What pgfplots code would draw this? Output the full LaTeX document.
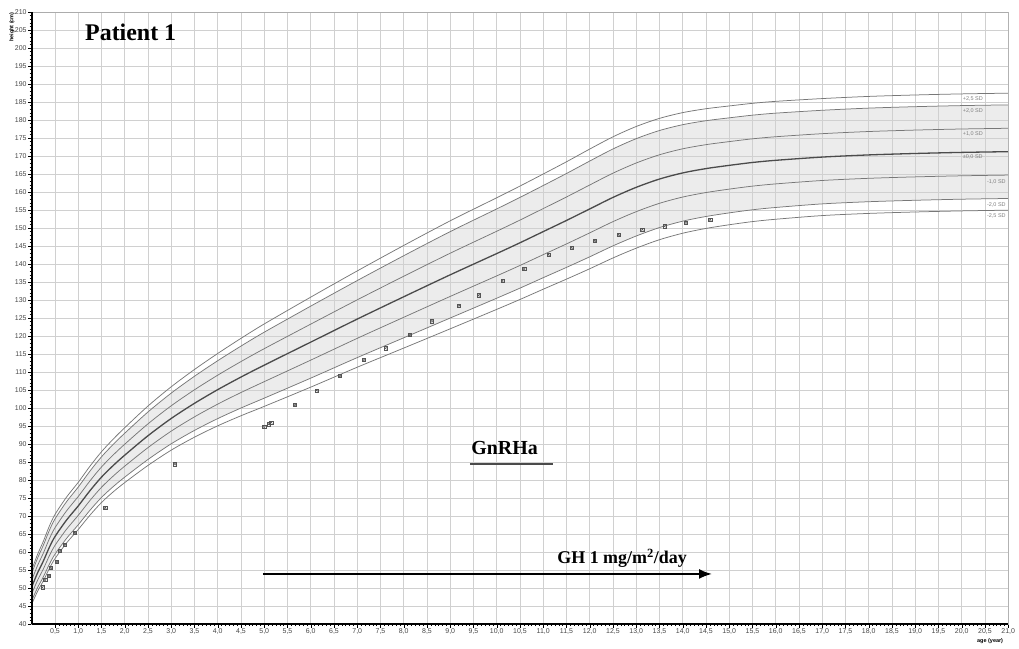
\documentclass[border=0pt]{standalone}
\usepackage{fontspec}
\setmainfont{Liberation Serif}
\newfontfamily\sansf{Liberation Sans}
\usepackage{pgfplots}
\usepackage{pgfplotstable}
\pgfplotsset{compat=1.18}
\usepgfplotslibrary{fillbetween}
\usetikzlibrary{arrows.meta}

\definecolor{gridc}{RGB}{208,208,208}
\definecolor{curvec}{RGB}{120,120,120}
\definecolor{meanc}{RGB}{75,75,75}
\definecolor{shadec}{RGB}{236,236,236}
\definecolor{ptc}{RGB}{85,85,85}
\definecolor{labc}{RGB}{70,70,70}

\pgfplotstableread{
age   p25    p20    p10    m0    n10    n20    n25
0     55.05  54.1   52.2   50.3  48.4   46.5   45.55
0.125 59.33  58.3   56.25  54.2  52.15  50.1   49.08
0.25  63.0   61.9   59.7   57.5  55.3   53.1   52.0
0.375 67.08  65.9   63.55  61.2  58.85  56.5   55.33
0.5   70.43  69.2   66.75  64.3  61.85  59.4   58.18
0.75  75.28  74.0   71.45  68.9  66.35  63.8   62.53
1.0   79.35  78.04  75.42  72.8  70.18  67.56  66.25
1.25  83.8   82.44  79.72  77.0  74.28  71.56  70.2
1.5   87.85  86.44  83.62  80.8  77.98  75.16  73.75
1.75  91.33  89.86  86.93  84.0  81.07  78.14  76.68
2.0   94.53  93.0   89.95  86.9  83.85  80.8   79.28
2.5   100.55 98.9   95.6   92.3  89.0   85.7   84.05
3.0   105.9  104.14 100.62 97.1  93.58  90.06  88.3
3.5   110.7  108.82 105.06 101.3 97.54  93.78  91.9
4.0   115.15 113.14 109.12 105.1 101.08 97.06  95.05
4.5   119.35 117.2  112.9  108.6 104.3  100.0  97.85
5.0   123.35 121.06 116.48 111.9 107.32 102.74 100.45
6.0   130.8  128.3  123.3  118.3 113.3  108.3  105.8
7.0   138.08 135.4  130.05 124.7 119.35 114.0  111.33
8.0   145.15 142.3  136.6  130.9 125.2  119.5  116.65
9.0   152.0  149.0  143.0  137.0 131.0  125.0  122.0
10.0  158.4  155.3  149.1  142.9 136.7  130.5  127.4
10.5  161.65 158.5  152.2  145.9 139.6  133.3  130.15
11.0  165.0  161.8  155.4  149.0 142.6  136.2  133.0
11.5  168.4  165.14 158.62 152.1 145.58 139.06 135.8
12.0  171.93 168.6  161.95 155.3 148.65 142.0  138.68
12.5  175.33 171.96 165.23 158.5 151.77 145.04 141.68
13.0  178.2  174.82 168.06 161.3 154.54 147.78 144.4
13.5  180.45 177.08 170.34 163.6 156.86 150.12 146.75
14.0  182.05 178.7  172.0  165.3 158.6  151.9  148.55
14.5  183.13 179.8  173.15 166.5 159.85 153.2  149.88
15.0  183.9  180.6  174.0  167.4 160.8  154.2  150.9
15.5  184.63 181.34 174.77 168.2 161.63 155.06 151.78
16.0  185.18 181.9  175.35 168.8 162.25 155.7  152.43
17.0  185.95 182.7  176.2  169.7 163.2  156.7  153.45
18.0  186.55 183.3  176.8  170.3 163.8  157.3  154.05
19.0  186.95 183.7  177.2  170.7 164.2  157.7  154.45
20.0  187.25 184.0  177.5  171.0 164.5  158.0  154.75
21.0  187.45 184.2  177.7  171.2 164.7  158.2  154.95
}\sds

\pgfplotstableread{
age   h
0.23  50.2
0.29  52.2
0.37  53.4
0.41  55.6
0.54  57.2
0.61  60.4
0.71  62.1
0.92  65.4
1.58  72.3
3.08  84.4
5.00  94.7
5.09  95.5
5.15  96.0
5.66  100.8
6.13  104.9
6.63  108.9
7.14  113.3
7.61  116.6
8.13  120.3
8.61  124.1
9.19  128.5
9.61  131.3
10.12 135.3
10.59 138.6
11.11 142.6
11.61 144.5
12.11 146.5
12.62 148.1
13.13 149.6
13.61 150.5
14.07 151.5
14.59 152.3
}\pts

\begin{document}
\begin{tikzpicture}
\begin{axis}[
  at={(0,0)}, anchor=south west,
  scale only axis, width=976.5bp, height=612bp,
  xmin=0, xmax=21, ymin=40, ymax=210,
  set layers, clip=false,
  xtick={0.5,1,...,21},
  ytick={40,45,...,210},
  minor x tick num=5, minor y tick num=4,
  grid=major,
  major grid style={gridc, line width=0.9bp},
  tick align=outside, tick pos=left,
  major tick length=3.5bp, minor tick length=2.2bp,
  every tick/.style={black, line width=0.45bp},
  axis line style={gray!65, line width=0.8bp},
  scaled ticks=false,
  xticklabel style={font=\sansf\fontsize{7}{8}\selectfont, text=labc, inner sep=1bp,
     /pgf/number format/.cd, fixed, fixed zerofill, precision=1, use comma, assume math mode=true},
  yticklabel style={font=\sansf\fontsize{7}{8}\selectfont, text=labc, inner sep=1.5bp,
     /pgf/number format/.cd, fixed, precision=0, assume math mode=true},
]
\addplot[name path=p20, draw=curvec, line width=0.75bp, smooth] table[x=age,y=p20]{\sds};
\addplot[name path=n20, draw=curvec, line width=0.75bp, smooth] table[x=age,y=n20]{\sds};
\addplot[fill=shadec, draw=none] fill between[of=p20 and n20, on layer=axis background];
\addplot[draw=curvec, line width=0.75bp, smooth] table[x=age,y=p25]{\sds};
\addplot[draw=curvec, line width=0.75bp, smooth] table[x=age,y=p10]{\sds};
\addplot[draw=curvec, line width=0.75bp, smooth] table[x=age,y=n10]{\sds};
\addplot[draw=curvec, line width=0.75bp, smooth] table[x=age,y=n25]{\sds};
\addplot[draw=meanc, line width=1.3bp, smooth] table[x=age,y=m0]{\sds};

\addplot[only marks, mark=square, mark size=1.6bp, ptc, mark options={line width=0.45bp}] table[x=age,y=h]{\pts};
\addplot[only marks, mark=x, mark size=1.6bp, ptc, mark options={line width=0.45bp}] table[x=age,y=h]{\pts};

\draw[black, line width=1.6bp] (rel axis cs:0,0) -- (rel axis cs:0,1);
\draw[black, line width=1.6bp] (rel axis cs:0,0) -- (rel axis cs:1,0);
\draw[gray!60, line width=1.3bp] (rel axis cs:1,0) -- (rel axis cs:1,1);

\begin{scope}[every node/.style={font=\sansf\fontsize{5.5}{6}\selectfont, text=gray, inner sep=0pt}]
\node[anchor=west] at (axis cs:20.02,185.75) {+2,5 SD};
\node[anchor=west] at (axis cs:20.02,182.6) {+2,0 SD};
\node[anchor=west] at (axis cs:20.02,176.1) {+1,0 SD};
\node[anchor=west] at (axis cs:20.02,169.6) {±0,0 SD};
\node[anchor=west] at (axis cs:20.54,162.9) {-1,0 SD};
\node[anchor=west] at (axis cs:20.54,156.4) {-2,0 SD};
\node[anchor=west] at (axis cs:20.54,153.4) {-2,5 SD};
\end{scope}

\node[anchor=base west, font=\bfseries\fontsize{24}{28}\selectfont, inner sep=0pt] at (axis cs:1.145,202.2) {Patient 1};
\node[anchor=base west, font=\bfseries\fontsize{20}{24}\selectfont, inner sep=0pt] at (axis cs:9.45,87.2) {GnRHa};
\draw[meanc, line width=2.5bp] (axis cs:9.42,84.4) -- (axis cs:11.21,84.4);
\draw[black, line width=2bp, -{Latex[length=13bp,width=10bp]}] (axis cs:4.97,53.9) -- (axis cs:14.63,53.9);
\node[anchor=base west, font=\bfseries\fontsize{18}{22}\selectfont, inner sep=0pt] at (axis cs:11.3,56.7) {GH 1 mg/m\textsuperscript{2}/day};

\node[rotate=90, font=\sansf\bfseries\fontsize{5.5}{6}\selectfont, inner sep=0pt] at (axis cs:-0.425,205.8) {height (cm)};
\node[font=\sansf\bfseries\fontsize{5.5}{6}\selectfont, inner sep=0pt] at (axis cs:20.61,35.3) {age (year)};
\end{axis}
\pgfresetboundingbox
\path[use as bounding box] (-31.75bp,-25bp) rectangle (987.25bp,624bp);
\end{tikzpicture}
\end{document}
